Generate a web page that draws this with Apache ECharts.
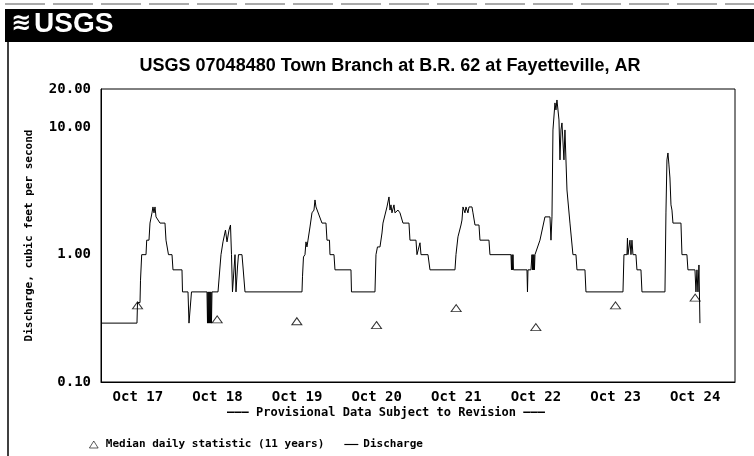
<!DOCTYPE html>
<html>
<head>
<meta charset="utf-8">
<script src="https://cdn.jsdelivr.net/npm/echarts@6/dist/echarts.min.js"></script>
<style>
html,body{margin:0;padding:0;background:#fff}
#main{width:754px;height:456px}
</style>
</head>
<body>
<div id="main"></div>
<script>
// day labels under the plot
var dayLabels = ['Oct 17', 'Oct 18', 'Oct 19', 'Oct 20', 'Oct 21', 'Oct 22', 'Oct 23', 'Oct 24'];

// discharge, hours after Oct 17 00:00 and cubic feet per second
var flowHours = [
  1.00, 11.84, 12.00, 12.75, 12.90, 13.26, 14.56, 14.77, 15.46, 15.76, 16.21, 16.36, 16.66, 16.97, 17.27, 17.57, 18.17, 18.77, 20.28, 20.58,
  21.18, 21.33, 22.39, 22.69, 25.40, 25.55, 27.21, 27.51, 27.96, 28.26, 32.93, 33.08, 33.23, 33.38, 33.53, 33.68, 33.83, 33.98, 34.13, 34.28,
  34.44, 36.25, 36.85, 37.15, 37.75, 38.35, 38.50, 38.96, 39.56, 40.01, 40.31, 40.61, 41.07, 41.37, 41.67, 42.12, 42.42, 43.47, 43.78, 44.38,
  61.55, 61.70, 62.00, 62.45, 62.75, 63.05, 63.36, 63.81, 63.96, 64.56, 65.16, 65.47, 65.77, 66.37, 66.67, 67.57, 68.78, 69.08, 69.83, 69.98,
  71.19, 71.49, 76.31, 76.46, 83.54, 83.84, 84.29, 85.05, 85.65, 85.95, 86.55, 87.15, 87.76, 88.06, 88.36, 88.66, 89.26, 89.56, 90.47, 91.07,
  91.67, 91.97, 93.78, 94.08, 95.89, 96.19, 96.79, 97.10, 97.40, 99.51, 100.11, 107.64, 107.94, 108.54, 109.45, 109.75, 110.05, 110.65, 110.95, 111.55,
  111.86, 112.76, 113.06, 113.67, 114.87, 115.17, 117.88, 118.18, 124.51, 124.66, 124.81, 124.96, 125.12, 125.27, 125.42, 129.33, 129.48, 129.63, 130.53, 130.83,
  130.98, 131.13, 131.28, 131.43, 131.58, 131.74, 133.24, 134.75, 136.26, 136.56, 136.86, 137.16, 137.76, 138.06, 138.36, 138.67, 138.97, 139.27, 139.57, 139.87,
  140.17, 140.47, 140.77, 141.38, 142.28, 143.18, 144.09, 144.39, 146.80, 147.10, 158.25, 158.55, 159.45, 159.60, 159.75, 160.36, 160.66, 160.96, 161.26, 162.16,
  162.46, 163.67, 163.97, 170.90, 171.20, 171.50, 171.80, 172.10, 172.40, 172.71, 173.01, 173.31, 175.72, 176.02, 177.52, 177.82, 179.94, 180.24, 180.54, 180.84,
  181.14, 181.44
];
var flowValues = [
  0.29, 0.29, 0.42, 0.42, 0.63, 1.00, 1.00, 1.30, 1.30, 1.77, 1.77, 2.13, 2.37, 2.13, 2.37, 1.98, 2.05, 1.77, 1.77, 1.30,
  1.30, 1.00, 1.00, 0.76, 0.76, 0.51, 0.51, 0.29, 0.29, 0.51, 0.51, 0.29, 0.51, 0.29, 0.51, 0.29, 0.51, 0.29, 0.51, 0.29,
  0.51, 0.51, 0.80, 1.00, 1.26, 1.26, 1.56, 1.26, 1.56, 1.71, 1.00, 0.51, 0.51, 1.00, 0.51, 0.80, 1.00, 1.00, 0.80, 0.51,
  0.51, 0.67, 0.96, 1.00, 1.26, 1.15, 1.30, 1.30, 1.65, 2.13, 2.24, 2.69, 2.37, 2.37, 2.05, 1.77, 1.77, 1.30, 1.30, 1.00,
  1.00, 0.76, 0.76, 0.51, 0.51, 1.00, 1.15, 1.15, 1.48, 1.77, 2.05, 2.37, 2.84, 2.24, 2.46, 2.13, 2.46, 2.13, 2.24, 2.13,
  2.13, 1.77, 1.77, 1.30, 1.30, 1.00, 1.00, 1.24, 1.00, 1.00, 0.76, 0.76, 1.00, 1.38, 1.71, 1.87, 2.37, 2.13, 2.37, 2.13,
  2.37, 2.37, 2.13, 1.71, 1.71, 1.30, 1.30, 1.00, 1.00, 0.76, 1.00, 0.76, 1.00, 0.76, 0.76, 0.76, 0.51, 0.76, 0.76, 1.00,
  0.76, 1.00, 0.76, 1.00, 0.76, 1.00, 1.30, 1.98, 1.98, 1.30, 1.98, 9.54, 15.55, 13.70, 16.40, 13.70, 11.43, 5.55, 9.54, 10.83,
  10.45, 5.55, 9.54, 3.22, 1.77, 1.00, 1.00, 0.76, 0.76, 0.51, 0.51, 1.00, 1.00, 1.35, 1.00, 1.30, 1.00, 1.30, 1.00, 1.00,
  0.76, 0.76, 0.51, 0.51, 2.16, 5.55, 6.29, 5.07, 4.00, 2.46, 2.24, 1.77, 1.77, 1.00, 1.00, 0.76, 0.76, 0.51, 0.76, 0.51,
  0.83, 0.29
];

// median daily statistic (11 years), plotted at noon of each day
var medianHours = [12, 36, 60, 84, 108, 132, 156, 180];
var medianValues = [0.40, 0.31, 0.30, 0.28, 0.38, 0.27, 0.40, 0.46];

var t0 = Date.UTC(2008, 9, 17, 0, 0);
var HOUR = 3600000;
var mono = 'DejaVu Sans Mono';

var flowData = flowHours.map(function (h, i) { return [t0 + h * HOUR, flowValues[i]]; });
var medianData = medianHours.map(function (h, i) { return [t0 + h * HOUR, medianValues[i]]; });

var myChart = echarts.init(document.getElementById('main'));
myChart.setOption({
  animation: false,
  backgroundColor: '#fff',
  title: {
    text: 'USGS 07048480 Town Branch at B.R. 62 at Fayetteville, AR',
    left: 385,
    top: 52,
    textAlign: 'center',
    textStyle: { fontFamily: 'Liberation Sans', fontWeight: 'bold', fontSize: 18, color: '#000' }
  },
  graphic: [
    { type: 'rect', shape: { x: 5, y: 9, width: 749, height: 33 }, style: { fill: '#000' } },
    { type: 'line', shape: { x1: 5, y1: 4, x2: 754, y2: 4 }, style: { stroke: '#555', lineWidth: 1, lineDash: [40, 8] } },
    { type: 'line', shape: { x1: 8, y1: 42, x2: 8, y2: 456 }, style: { stroke: '#000', lineWidth: 1.5 } },
    { type: 'text', x: 11, y: 12, style: { text: '\u224B', fill: '#fff', font: 'bold 24px "DejaVu Sans"' } },
    { type: 'text', x: 34, y: 10, style: { text: 'USGS', fill: '#fff', font: 'bold 28px "Liberation Sans Narrow", "Liberation Sans"' } },
    {
      type: 'text', x: 386, y: 413,
      style: {
        text: '\u2014\u2014\u2014 Provisional Data Subject to Revision \u2014\u2014\u2014',
        fill: '#000', font: 'bold 12px "DejaVu Sans Mono"', textAlign: 'center', textVerticalAlign: 'middle'
      }
    }
  ],
  legend: {
    left: 84,
    top: 434,
    itemGap: 20,
    itemWidth: 14,
    itemHeight: 7,
    textStyle: { fontFamily: mono, fontWeight: 'bold', fontSize: 11, color: '#000' },
    data: [
      { name: 'Median daily statistic (11 years)', icon: 'path://M5,0L10,8L0,8Z', itemStyle: { borderWidth: 0.8 } },
      { name: 'Discharge', icon: 'path://M0,0h12v1h-12z' }
    ]
  },
  grid: [
    { left: 101, right: 19, top: 89, bottom: 74, show: true, borderColor: '#000', borderWidth: 1 },
    { left: 98, right: 19, top: 89, bottom: 74 }
  ],
  xAxis: [
    {
      type: 'time', gridIndex: 0,
      min: t0 + HOUR, max: t0 + 192 * HOUR,
      axisLine: { show: true, lineStyle: { color: '#000' } },
      axisTick: { show: false },
      axisLabel: { show: false },
      splitLine: { show: false }
    },
    {
      type: 'category', gridIndex: 1, data: dayLabels, boundaryGap: true,
      axisLine: { show: false }, axisTick: { show: false }, splitLine: { show: false },
      axisLabel: { margin: 8, color: '#000', fontFamily: mono, fontWeight: 'bold', fontSize: 14 }
    }
  ],
  yAxis: [
    {
      type: 'log', gridIndex: 0, logBase: 10, min: 0.1, max: 20,
      name: 'Discharge, cubic feet per second',
      nameLocation: 'middle', nameGap: 66, nameRotate: 90,
      nameTextStyle: { fontFamily: mono, fontWeight: 'bold', fontSize: 11, color: '#000' },
      axisLine: { show: true, lineStyle: { color: '#000' } },
      axisTick: { show: false },
      splitLine: { show: false },
      minorTick: { show: false },
      axisLabel: {
        margin: 10, color: '#000', fontFamily: mono, fontWeight: 'bold', fontSize: 14,
        showMinLabel: true, showMaxLabel: true,
        formatter: function (v) { return Number(v).toFixed(2); }
      }
    },
    { type: 'value', gridIndex: 1, show: false }
  ],
  series: [
    {
      name: 'Median daily statistic (11 years)',
      type: 'scatter', xAxisIndex: 0, yAxisIndex: 0,
      symbol: 'triangle', symbolSize: [10, 7],
      itemStyle: { color: '#fff', borderColor: '#000', borderWidth: 1 },
      data: medianData
    },
    {
      name: 'Discharge',
      type: 'line', xAxisIndex: 0, yAxisIndex: 0,
      symbol: 'none', showSymbol: false,
      lineStyle: { color: '#000', width: 1 },
      itemStyle: { color: '#000' },
      data: flowData
    }
  ]
});
</script>
</body>
</html>
